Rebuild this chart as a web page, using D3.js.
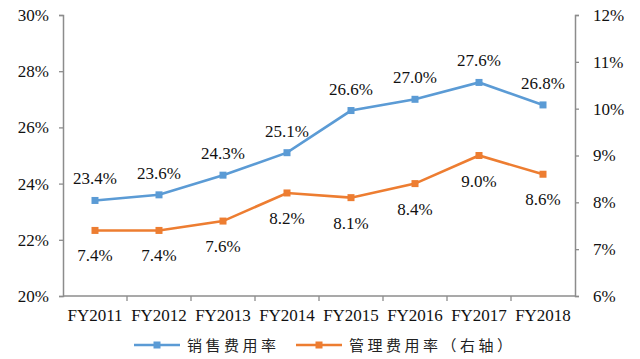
<!DOCTYPE html>
<html><head><meta charset="utf-8">
<script src="https://cdn.jsdelivr.net/npm/d3@7/dist/d3.min.js"></script>
<style>body{margin:0;background:#fff}svg{display:block}</style>
</head><body>
<svg id="c" width="640" height="359"></svg>
<script>
const categories = ["FY2011","FY2012","FY2013","FY2014","FY2015","FY2016","FY2017","FY2018"];
const salesRate = [23.4,23.6,24.3,25.1,26.6,27.0,27.6,26.8];
const adminRate = [7.4,7.4,7.6,8.2,8.1,8.4,9.0,8.6];
const leftTicks = [20,22,24,26,28,30];
const rightTicks = [6,7,8,9,10,11,12];
const seriesNames = ["销售费用率","管理费用率（右轴）"];

const svg = d3.select("#c");
const L = 63, R = 575, T = 15, B = 296;
const x = d3.scaleBand().domain(categories).range([L, R]);
const yL = d3.scaleLinear().domain([20,30]).range([B, T]);
const yR = d3.scaleLinear().domain([6,12]).range([B, T]);
const axisCol = "#8c8c8c";
const blue = "#5b9bd5", orange = "#ed7d31";
const serif = "'Liberation Serif','Times New Roman',serif";

const gl = svg.append("g").attr("transform",`translate(${L},0)`)
  .call(d3.axisLeft(yL).tickValues(leftTicks).tickSize(4).tickPadding(10).tickFormat(d=>d+"%"));
const gr = svg.append("g").attr("transform",`translate(${R},0)`)
  .call(d3.axisRight(yR).tickValues(rightTicks).tickSize(4).tickPadding(14).tickFormat(d=>d+"%"));
const gb = svg.append("g").attr("transform",`translate(0,${B})`)
  .call(d3.axisBottom(x).tickSize(0).tickPadding(13));
gb.selectAll(".bt").data(categories.slice(1)).enter().append("line")
  .attr("x1",d=>x(d)).attr("x2",d=>x(d)).attr("y1",0).attr("y2",5)
  .attr("stroke",axisCol).attr("stroke-width",1.3);

[gl,gr,gb].forEach(g=>{
  g.selectAll("path").attr("stroke",axisCol).attr("stroke-width",1.5);
  g.selectAll(".tick line").attr("stroke",axisCol).attr("stroke-width",1.3);
  g.selectAll("text").attr("font-family",serif).attr("font-size",17).attr("fill","#111");
});
gb.select(".domain").attr("d",`M${L},0H${R}`);

const cx = d => x(d) + x.bandwidth()/2;

function drawSeries(vals, yS, col, dy){
  const pts = vals.map((v,i)=>({c:categories[i],v}));
  svg.append("path").datum(pts)
    .attr("d", d3.line().x(p=>cx(p.c)).y(p=>yS(p.v)))
    .attr("fill","none").attr("stroke",col).attr("stroke-width",2.6);
  svg.selectAll(null).data(pts).enter().append("rect")
    .attr("x",p=>cx(p.c)-3.5).attr("y",p=>yS(p.v)-3.5)
    .attr("width",7).attr("height",7).attr("fill",col);
  svg.selectAll(null).data(pts).enter().append("text")
    .attr("x",p=>cx(p.c)).attr("y",p=>yS(p.v)+dy)
    .attr("text-anchor","middle").attr("font-family",serif).attr("font-size",17).attr("fill","#111")
    .text(p=>p.v.toFixed(1)+"%");
}
drawSeries(salesRate, yL, blue, -16);
drawSeries(adminRate, yR, orange, 31);

const leg = [{name:seriesNames[0],col:blue,x0:134},{name:seriesNames[1],col:orange,x0:296}];
leg.forEach(l=>{
  const g = svg.append("g");
  g.append("line").attr("x1",l.x0).attr("x2",l.x0+46).attr("y1",345).attr("y2",345)
    .attr("stroke",l.col).attr("stroke-width",2.6);
  g.append("rect").attr("x",l.x0+19.5).attr("y",341.5).attr("width",7).attr("height",7).attr("fill",l.col);
  g.append("text").attr("x",l.x0+53).attr("y",351).attr("font-family","'Noto Sans CJK SC',sans-serif")
    .attr("font-size",15).attr("letter-spacing",3.5).attr("fill","#222").text(l.name);
});
</script>
</body></html>
